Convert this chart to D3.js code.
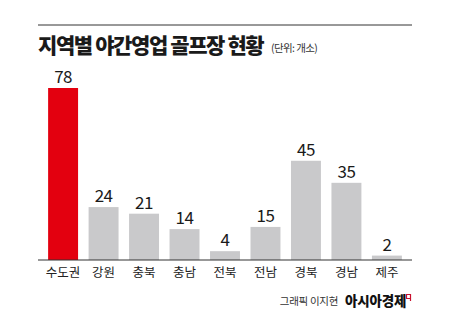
<!DOCTYPE html>
<html>
<head>
<meta charset="utf-8">
<script src="https://cdn.jsdelivr.net/npm/d3@7"></script>
<style>
  html, body { margin: 0; padding: 0; background: #fff; }
  svg { display: block; }
</style>
</head>
<body>
<svg id="chart" width="450" height="334"></svg>
<script>
// Night-operating golf courses by region (unit: courses)
const regions = ["수도권", "강원", "충북", "충남", "전북", "전남", "경북", "경남", "제주"];
const courses = [78, 24, 21, 14, 4, 15, 45, 35, 2];
const highlight = ["수도권"];

const titleText = "지역별 야간영업 골프장 현황";
const unitText = "(단위: 개소)";
const creditText = "그래픽 이지현";
const brandText = "아시아경제";

const svg = d3.select("#chart");
const font = "'Noto Sans CJK KR', 'Noto Sans', sans-serif";

const left = 38, right = 412, baseY = 260;

// top rule
svg.append("line")
  .attr("x1", left).attr("x2", right)
  .attr("y1", 25).attr("y2", 25)
  .attr("stroke", "#333").attr("stroke-width", 1);

// title
svg.append("text")
  .attr("x", left).attr("y", 53)
  .attr("font-family", font).attr("font-weight", 900)
  .attr("font-size", 21).attr("letter-spacing", -1.4)
  .attr("fill", "#1a1a1a")
  .text(titleText);

svg.append("text")
  .attr("x", 271).attr("y", 52)
  .attr("font-family", font).attr("font-size", 10.5)
  .attr("fill", "#333").attr("letter-spacing", -0.6)
  .text(unitText);

const x = d3.scaleBand()
  .domain(regions)
  .range([left, right])
  .paddingInner(0.26)
  .paddingOuter(0.25);

const y = d3.scaleLinear()
  .domain([0, 78])
  .range([baseY, 88]);

const g = svg.append("g");

g.selectAll("rect.bar")
  .data(regions)
  .join("rect")
  .attr("class", "bar")
  .attr("x", d => x(d))
  .attr("width", x.bandwidth())
  .attr("y", (d, i) => y(courses[i]))
  .attr("height", (d, i) => baseY - y(courses[i]))
  .attr("fill", d => highlight.includes(d) ? "#e3000f" : "#c9c9cb");

g.selectAll("text.val")
  .data(regions)
  .join("text")
  .attr("class", "val")
  .attr("x", d => x(d) + x.bandwidth() / 2)
  .attr("y", (d, i) => y(courses[i]) - 5)
  .attr("text-anchor", "middle")
  .attr("font-family", font)
  .attr("font-size", 17)
  .attr("letter-spacing", -0.5)
  .attr("fill", "#1a1a1a")
  .text((d, i) => courses[i]);

// category axis
const axis = d3.axisBottom(x).tickSize(0).tickPadding(8);
const axisG = svg.append("g")
  .attr("transform", `translate(0,${baseY})`)
  .call(axis);
axisG.select(".domain").attr("stroke", "#333").attr("stroke-width", 1.2)
  .attr("d", `M${left},0H${right}`);
axisG.selectAll(".tick text")
  .attr("font-family", font)
  .attr("font-size", 12.5)
  .attr("fill", "#222")
  .attr("dy", "0.71em");

// credit line
svg.append("text")
  .attr("x", 338).attr("y", 305)
  .attr("text-anchor", "end")
  .attr("font-family", font).attr("font-size", 10.5)
  .attr("fill", "#333").attr("letter-spacing", -0.3)
  .text(creditText);

svg.append("text")
  .attr("x", 345).attr("y", 306)
  .attr("font-family", font).attr("font-weight", 900)
  .attr("font-size", 13.5).attr("letter-spacing", -0.2)
  .attr("fill", "#111")
  .text(brandText);

// small brand mark
svg.append("path")
  .attr("d", "M406.5,294.5h4v4h-4z M410.5,298.5v2.5")
  .attr("fill", "none")
  .attr("stroke", "#c8102e")
  .attr("stroke-width", 1.2);
</script>
</body>
</html>
